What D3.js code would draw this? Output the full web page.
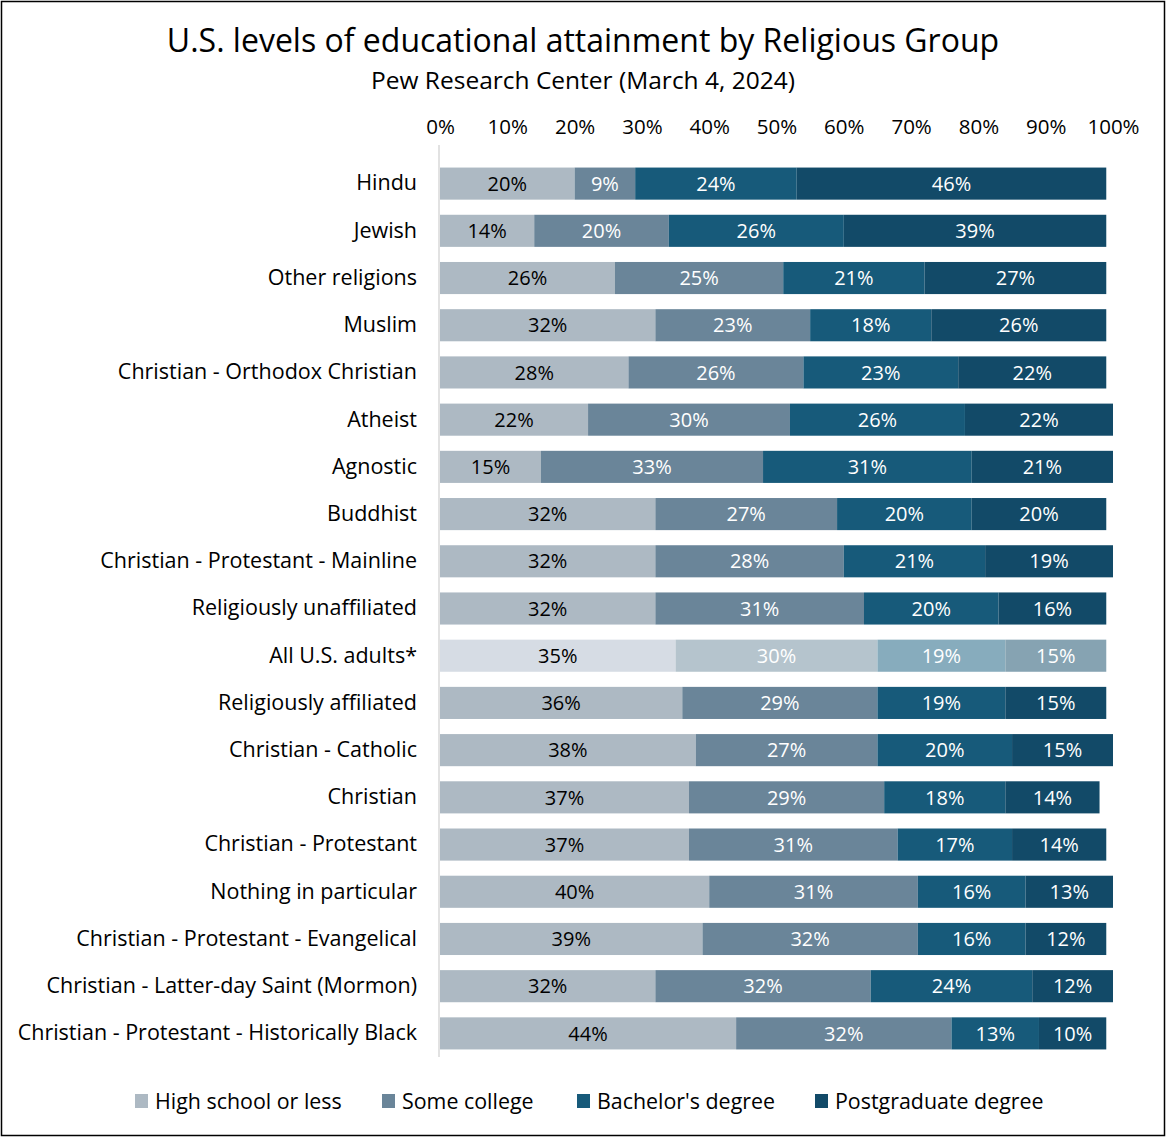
<!DOCTYPE html>
<html>
<head>
<meta charset="utf-8">
<script src="https://cdn.jsdelivr.net/npm/d3@7"></script>
<style>
  body { margin: 0; background: #fff; }
  svg { font-family: "Open Sans", "Noto Sans", sans-serif; }
</style>
</head>
<body>
<div id="vis"></div>
<script>
const width = 1166, height = 1137;
const margin = { top: 160, right: 53, bottom: 80, left: 440 };

const groups = [
  "Hindu", "Jewish", "Other religions", "Muslim", "Christian - Orthodox Christian",
  "Atheist", "Agnostic", "Buddhist", "Christian - Protestant - Mainline",
  "Religiously unaffiliated", "All U.S. adults*", "Religiously affiliated",
  "Christian - Catholic", "Christian", "Christian - Protestant", "Nothing in particular",
  "Christian - Protestant - Evangelical", "Christian - Latter-day Saint (Mormon)",
  "Christian - Protestant - Historically Black"
];
const highSchool    = [20, 14, 26, 32, 28, 22, 15, 32, 32, 32, 35, 36, 38, 37, 37, 40, 39, 32, 44];
const someCollege   = [ 9, 20, 25, 23, 26, 30, 33, 27, 28, 31, 30, 29, 27, 29, 31, 31, 32, 32, 32];
const bachelors     = [24, 26, 21, 18, 23, 26, 31, 20, 21, 20, 19, 19, 20, 18, 17, 16, 16, 24, 13];
const postgraduate  = [46, 39, 27, 26, 22, 22, 21, 20, 19, 16, 15, 15, 15, 14, 14, 13, 12, 12, 10];

const seriesNames = ["High school or less", "Some college", "Bachelor's degree", "Postgraduate degree"];
const xTicks = [0, 10, 20, 30, 40, 50, 60, 70, 80, 90, 100];

const colors = ["#adb9c3", "#6a8599", "#175a7a", "#124a68"];
const highlightColors = ["#d6dce4", "#b5c4cd", "#87acbd", "#86a3b2"];
const highlight = "All U.S. adults*";

const table = groups.map((g, i) => ({
  group: g,
  [seriesNames[0]]: highSchool[i],
  [seriesNames[1]]: someCollege[i],
  [seriesNames[2]]: bachelors[i],
  [seriesNames[3]]: postgraduate[i]
}));
const stacked = d3.stack().keys(seriesNames)(table);

const svg = d3.select("#vis").append("svg")
  .attr("width", width).attr("height", height);

svg.append("rect")
  .attr("x", 1.5).attr("y", 1.5)
  .attr("width", width - 3).attr("height", height - 3)
  .attr("fill", "#fff").attr("stroke", "#000").attr("stroke-width", 1.5);

const x = d3.scaleLinear().domain([0, 100]).range([margin.left, width - margin.right]);
const y = d3.scaleBand().domain(groups)
  .range([margin.top, height - margin.bottom]).paddingInner(0.32).paddingOuter(0.16);

// title
svg.append("text").attr("x", 583).attr("y", 52).attr("text-anchor", "middle")
  .style("font-size", "32px").attr("fill", "#000")
  .text("U.S. levels of educational attainment by Religious Group");
svg.append("text").attr("x", 583).attr("y", 89).attr("text-anchor", "middle")
  .style("font-size", "24.5px").attr("fill", "#000")
  .text("Pew Research Center (March 4, 2024)");

// top axis
const xAxis = svg.append("g")
  .attr("transform", `translate(0, ${margin.top - 23})`)
  .call(d3.axisTop(x).tickValues(xTicks).tickFormat(d => d + "%").tickSize(0));
xAxis.select(".domain").remove();
xAxis.selectAll("text").style("font-size", "20.5px").attr("fill", "#000")
  .attr("font-family", "Open Sans, Noto Sans, sans-serif");

// bars
const layer = svg.append("g").selectAll("g")
  .data(stacked).join("g");

layer.selectAll("rect")
  .data((s, k) => s.map(d => ({ d, k })))
  .join("rect")
  .attr("x", o => x(o.d[0]))
  .attr("y", o => y(o.d.data.group))
  .attr("width", o => x(o.d[1]) - x(o.d[0]))
  .attr("height", y.bandwidth())
  .attr("fill", o => o.d.data.group === highlight ? highlightColors[o.k] : colors[o.k]);

layer.selectAll("text")
  .data((s, k) => s.map(d => ({ d, k })))
  .join("text")
  .attr("x", o => (x(o.d[0]) + x(o.d[1])) / 2)
  .attr("y", o => y(o.d.data.group) + y.bandwidth() / 2)
  .attr("dy", "0.36em")
  .attr("text-anchor", "middle")
  .style("font-size", "20px")
  .attr("fill", o => o.k === 0 ? "#000" : "#fff")
  .text(o => (o.d[1] - o.d[0]) + "%");

// left axis
const yAxis = svg.append("g")
  .attr("transform", `translate(${margin.left - 1}, 0)`)
  .call(d3.axisLeft(y).tickSize(0).tickPadding(22));
yAxis.select(".domain")
  .attr("d", `M0,${margin.top - 15}V${height - margin.bottom}`)
  .attr("stroke", "#d9d9d9").attr("stroke-width", 1.5);
yAxis.selectAll("text").style("font-size", "21.5px").attr("fill", "#000")
  .attr("font-family", "Open Sans, Noto Sans, sans-serif");

// legend
const legendX = [135, 382, 577, 815];
const legend = svg.append("g").selectAll("g")
  .data(seriesNames).join("g")
  .attr("transform", (d, i) => `translate(${legendX[i]}, 1101)`);
legend.append("rect").attr("x", 0).attr("y", -7).attr("width", 13).attr("height", 14)
  .attr("fill", (d, i) => colors[i]);
legend.append("text").attr("x", 20).attr("dy", "0.36em")
  .style("font-size", "21.4px").attr("fill", "#000").text(d => d);
</script>
</body>
</html>
